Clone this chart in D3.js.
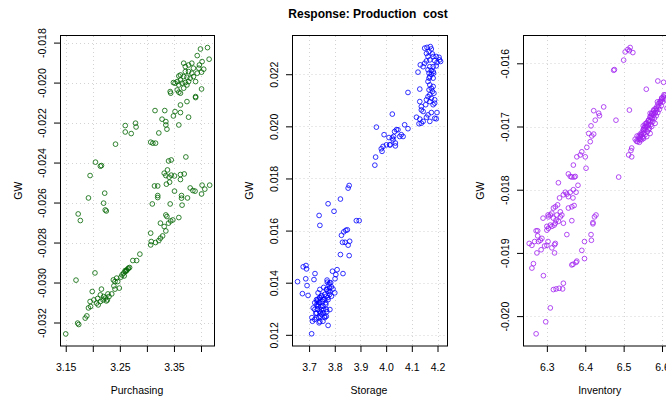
<!DOCTYPE html>
<html>
<head>
<meta charset="utf-8">
<script src="https://cdn.jsdelivr.net/npm/d3@7"></script>
<style>
  body { margin: 0; background: #fff; }
  svg { font-family: "Liberation Sans", Arial, sans-serif; }
</style>
</head>
<body>
<svg id="chart" width="666" height="399"></svg>
<script>
// GW response vs. Purchasing
const purchasing = [3.399,3.412,3.415,3.393,3.402,3.397,3.383,3.368,3.371,3.377,
  3.386,3.396,3.405,3.401,3.393,3.383,3.377,3.371,3.362,3.359,
  3.368,3.374,3.380,3.386,3.390,3.377,3.371,3.362,3.356,3.352,
  3.349,3.359,3.365,3.374,3.368,3.356,3.359,3.362,3.343,3.344,
  3.401,3.390,3.390,3.374,3.362,3.315,3.333,3.352,3.362,3.349,
  3.328,3.377,3.335,3.335,3.337,3.359,3.322,3.307,3.311,3.316,
  3.279,3.280,3.260,3.260,3.271,3.242,3.205,3.214,3.216,3.195,
  3.192,3.222,3.220,3.314,3.320,3.320,3.320,3.340,3.345,3.372,
  3.338,3.332,3.335,3.341,3.345,3.351,3.362,3.369,3.362,3.336,
  3.342,3.351,3.380,3.389,3.402,3.416,3.407,3.401,3.364,3.364,
  3.375,3.385,3.310,3.343,3.365,3.223,3.225,3.173,3.177,3.335,
  3.337,3.359,3.340,3.344,3.348,3.325,3.332,3.335,3.329,3.325,
  3.322,3.316,3.308,3.307,3.307,3.287,3.281,3.274,3.266,3.263,
  3.260,3.257,3.254,3.258,3.260,3.252,3.244,3.241,3.238,3.246,
  3.249,3.241,3.239,3.235,3.228,3.227,3.220,3.214,3.209,3.207,
  3.210,3.214,3.216,3.199,3.195,3.196,3.204,3.169,3.172,3.174,
  3.186,3.189,3.150,3.223,3.225,3.230,3.219,3.202,3.192,3.268,
  3.265,3.262];
const gwPurchasing = [-0.01832,-0.01825,-0.01883,-0.01865,-0.01895,-0.01912,-0.01903,-0.01903,-0.0192,-0.01912,
  -0.01928,-0.01928,-0.01933,-0.01948,-0.01953,-0.01953,-0.01945,-0.01945,-0.01962,-0.01967,
  -0.0197,-0.01973,-0.01978,-0.0197,-0.01995,-0.01995,-0.02,-0.01987,-0.01995,-0.02003,
  -0.02,-0.02012,-0.02003,-0.02012,-0.02028,-0.02037,-0.02048,-0.02053,-0.02045,-0.02053,
  -0.02032,-0.0207,-0.02075,-0.02095,-0.02112,-0.0214,-0.0214,-0.02145,-0.0215,-0.02167,
  -0.02183,-0.02173,-0.02195,-0.02212,-0.02233,-0.02212,-0.02252,-0.02298,-0.02303,-0.02303,
  -0.02203,-0.02222,-0.02215,-0.02247,-0.02255,-0.02308,-0.02398,-0.02418,-0.02415,-0.02465,
  -0.02577,-0.02553,-0.02603,-0.02517,-0.02517,-0.02565,-0.02575,-0.02392,-0.02387,-0.02372,
  -0.02437,-0.02453,-0.02465,-0.02473,-0.02463,-0.02467,-0.0246,-0.02457,-0.02485,-0.02508,
  -0.02498,-0.02543,-0.02527,-0.02543,-0.02513,-0.02513,-0.02533,-0.02557,-0.02565,-0.02578,
  -0.02577,-0.0254,-0.02607,-0.02607,-0.02613,-0.02637,-0.02642,-0.02657,-0.0269,-0.02662,
  -0.0267,-0.02675,-0.02703,-0.02692,-0.02687,-0.02703,-0.0272,-0.02742,-0.02767,-0.02778,
  -0.0279,-0.028,-0.02795,-0.02812,-0.02753,-0.02858,-0.0289,-0.0289,-0.02928,-0.02937,
  -0.02945,-0.02953,-0.02962,-0.02967,-0.0294,-0.02973,-0.02978,-0.02995,-0.02987,-0.02995,
  -0.03028,-0.03033,-0.03017,-0.03057,-0.03057,-0.03087,-0.0307,-0.03062,-0.0308,-0.03103,
  -0.03112,-0.03095,-0.03033,-0.03045,-0.03095,-0.0312,-0.02952,-0.02988,-0.03203,-0.0321,
  -0.03178,-0.03167,-0.03257,-0.03078,-0.03092,-0.0307,-0.03087,-0.03087,-0.03127,-0.02925,
  -0.02932,-0.02942];

// GW response vs. Storage
const storage = [4.150,4.159,4.172,4.176,4.167,4.157,4.180,4.163,4.183,4.195,
  4.206,4.208,4.212,4.198,4.189,4.170,4.157,4.150,4.133,4.144,
  4.170,4.183,4.195,4.163,4.176,4.183,4.167,4.176,4.185,4.170,
  4.167,4.183,4.124,4.163,4.170,4.176,4.183,4.167,4.180,4.186,
  4.170,4.163,4.176,4.189,4.170,4.189,4.157,4.131,4.085,4.131,
  4.137,4.137,4.144,4.154,4.183,4.176,4.198,4.163,4.189,4.195,
  4.157,4.170,4.144,4.131,4.118,4.128,4.137,
  4.024,3.962,3.992,4.011,4.024,4.029,4.033,4.040,4.046,4.072,
  4.085,4.059,4.066,4.053,4.036,4.036,4.014,4.001,3.988,3.981,
  3.984,3.959,3.956,4.016,4.027,3.856,3.852,3.822,3.774,
  3.739,3.742,3.797,3.884,3.895,3.826,3.835,3.843,3.849,3.830,
  3.840,3.852,3.858,3.822,3.856,3.677,3.688,3.690,3.723,3.719,
  3.832,3.809,3.791,3.804,3.655,3.687,3.692,3.674,3.696,3.770,
  3.771,3.780,3.801,3.787,3.767,3.742,3.735,3.729,3.722,3.716,
  3.713,3.729,3.739,3.754,3.767,3.774,3.744,3.735,3.754,3.748,
  3.761,3.774,3.780,3.793,3.800,3.787,3.774,3.765,3.754,3.748,
  3.742,3.729,3.722,3.754,3.767,3.761,3.710,3.742,3.735,3.731,
  3.780,3.767,3.742,
  3.734,3.742,3.749,3.738,3.730,3.746,3.753,3.761,3.734,3.742,
  3.726,3.749,3.738,3.757,3.765,3.773,3.781,3.769,3.757,3.777,
  3.784,3.722,3.742,3.761,3.711,3.769,3.781];
const gwStorage = [0.023,0.02303,0.02306,0.02297,0.02287,0.0228,0.02278,0.02268,0.02268,0.02268,
  0.02265,0.02255,0.02249,0.02245,0.02252,0.02255,0.02251,0.02242,0.02236,0.02229,
  0.02229,0.02229,0.02232,0.02217,0.02214,0.0221,0.02204,0.022,0.02204,0.02191,
  0.02185,0.02185,0.02208,0.02172,0.02159,0.02146,0.02153,0.0214,0.02134,0.02127,
  0.02121,0.02114,0.02108,0.02102,0.02095,0.02089,0.02102,0.02143,0.0213,0.02095,
  0.02076,0.02063,0.02057,0.02083,0.02083,0.02053,0.02053,0.02044,0.02031,0.02029,
  0.02035,0.02019,0.02019,0.02028,0.02035,0.0201,0.02012,
  0.02047,0.01997,0.01968,0.01957,0.01955,0.01961,0.0198,0.01987,0.01987,0.02006,
  0.01991,0.01968,0.01961,0.01961,0.01936,0.01925,0.01929,0.01929,0.01923,0.01914,
  0.01904,0.01882,0.01851,0.01929,0.01948,0.01773,0.01763,0.01721,0.01703,
  0.01658,0.0162,0.01674,0.01638,0.01638,0.01582,0.01595,0.01601,0.01603,0.01555,
  0.01555,0.01544,0.01559,0.01508,0.01504,0.01461,0.01466,0.01453,0.01435,0.01412,
  0.01435,0.0145,0.01444,0.01431,0.01404,0.01415,0.01389,0.01358,0.01351,0.0141,
  0.01402,0.01399,0.01415,0.01384,0.01374,0.01374,0.01361,0.01335,0.01323,0.01303,
  0.01252,0.01265,0.01246,0.01252,0.01271,0.01236,0.01284,0.0131,0.01335,0.01348,
  0.01355,0.01367,0.0138,0.01376,0.01361,0.01348,0.01335,0.01323,0.0131,0.01297,
  0.01271,0.01284,0.01297,0.01284,0.01297,0.01271,0.01204,0.01323,0.01316,0.01329,
  0.01355,0.01348,0.01342,
  0.01336,0.01343,0.01351,0.01324,0.01316,0.01308,0.01328,0.01336,0.01297,0.01289,
  0.01282,0.01278,0.01266,0.01297,0.01316,0.01343,0.01366,0.01374,0.01382,0.01393,
  0.014,0.01259,0.01251,0.01266,0.01266,0.01289,0.01297];

// GW response vs. Inventory
const inventory = [6.504,6.511,6.517,6.515,6.524,6.500,6.476,6.474,6.589,6.604,
  6.559,6.515,6.480,6.448,6.422,6.435,6.437,6.426,6.415,6.409,
  6.422,6.417,6.413,6.404,6.391,6.387,6.378,6.400,6.369,6.402,
  6.356,6.361,6.374,6.487,
  6.530,6.536,6.541,6.543,6.547,6.552,6.556,6.560,6.565,6.569,
  6.573,6.578,6.582,6.586,6.591,6.595,6.599,6.604,6.608,6.550,
  6.556,6.562,6.567,6.571,6.576,6.580,6.585,6.589,6.593,6.598,
  6.602,6.606,6.611,6.613,6.547,6.552,6.565,6.573,6.582,6.569,
  6.560,6.543,6.521,6.519,6.513,6.521,6.595,6.599,6.588,6.578,
  6.573,6.569,6.565,6.559,6.556,6.552,
  6.533,6.538,6.540,6.543,6.546,6.548,6.551,6.553,6.556,6.559,
  6.561,6.564,6.566,6.569,6.572,6.574,6.577,6.579,6.582,6.585,
  6.587,6.590,6.595,6.600,6.605,6.543,6.553,6.564,6.574,6.535,
  6.556,6.569,6.582,6.551,
  6.330,6.361,6.369,6.376,6.352,6.348,6.343,6.356,6.333,6.368,
  6.381,6.365,6.371,
  6.322,6.317,6.328,6.335,6.326,6.339,6.317,6.309,6.304,6.313,
  6.335,6.324,6.330,6.319,6.313,6.304,6.300,6.309,6.290,6.303,
  6.343,6.356,6.365,6.371,6.365,6.352,6.322,6.428,6.424,6.420,
  6.420,6.415,6.416,6.398,6.391,6.398,6.378,6.376,6.368,6.365,
  6.272,6.276,6.276,6.268,6.254,6.261,6.265,6.261,6.274,6.285,
  6.294,6.303,6.313,6.320,6.322,6.320,6.291,6.317,6.324,6.332,
  6.341,6.343,6.309,6.297,6.272,6.287,6.283,6.278,6.300,6.300];
const gwInventory = [-0.01582,-0.01578,-0.01575,-0.0158,-0.01583,-0.01595,-0.0161,-0.01611,-0.01628,-0.0163,
  -0.01641,-0.01674,-0.0169,-0.01669,-0.01675,-0.01679,-0.01683,-0.0169,-0.01699,-0.01711,
  -0.01712,-0.01715,-0.01724,-0.01733,-0.0174,-0.01745,-0.01748,-0.01748,-0.01761,-0.01766,
  -0.01775,-0.01779,-0.01779,-0.0178,
  -0.0172,-0.01724,-0.01725,-0.01716,-0.01713,-0.01711,-0.01705,-0.017,-0.01697,-0.01692,
  -0.01687,-0.01682,-0.01678,-0.01674,-0.01669,-0.01663,-0.01658,-0.01653,-0.0165,-0.01717,
  -0.01713,-0.01708,-0.01703,-0.01697,-0.01692,-0.01687,-0.01683,-0.01678,-0.01673,-0.01667,
  -0.01661,-0.01655,-0.01658,-0.01671,-0.01721,-0.01719,-0.01705,-0.017,-0.01695,-0.01711,
  -0.01716,-0.01721,-0.01734,-0.01738,-0.01745,-0.01748,-0.01661,-0.01655,-0.01661,-0.01674,
  -0.01679,-0.01684,-0.0169,-0.01695,-0.017,-0.01705,
  -0.01723,-0.0172,-0.01715,-0.01712,-0.01713,-0.01709,-0.01705,-0.01702,-0.01701,-0.01698,
  -0.01694,-0.01691,-0.0169,-0.01686,-0.01683,-0.0168,-0.01679,-0.01675,-0.01672,-0.01671,
  -0.01668,-0.01664,-0.0166,-0.01655,-0.0165,-0.01718,-0.0171,-0.01699,-0.01688,-0.01715,
  -0.01696,-0.01679,-0.01679,-0.01699,
  -0.01789,-0.01804,-0.018,-0.01804,-0.01807,-0.01804,-0.01808,-0.01811,-0.01813,-0.01813,
  -0.01793,-0.0178,-0.0178,
  -0.01827,-0.01829,-0.01824,-0.01835,-0.0184,-0.0184,-0.01845,-0.0184,-0.01843,-0.01837,
  -0.01843,-0.01848,-0.0185,-0.01856,-0.01858,-0.01861,-0.01864,-0.01856,-0.01845,-0.0184,
  -0.01853,-0.01829,-0.01827,-0.01825,-0.01849,-0.01871,-0.01853,-0.0184,-0.01843,-0.01852,
  -0.01854,-0.01871,-0.0188,-0.01882,-0.01896,-0.01909,-0.01913,-0.01915,-0.01918,-0.01919,
  -0.01865,-0.01865,-0.01873,-0.01882,-0.01885,-0.01888,-0.01917,-0.01924,-0.019,-0.01895,
  -0.01889,-0.01882,-0.01892,-0.01887,-0.01885,-0.019,-0.01936,-0.01958,-0.01957,-0.01956,
  -0.01957,-0.01948,-0.01987,-0.02009,-0.02028,-0.01877,-0.0188,-0.01882,-0.01858,-0.01888];

// tick values and labels (R drops the labels that would overlap)
const purchasingTicks = [3.15, 3.20, 3.25, 3.30, 3.35, 3.40];
const purchasingLabels = ['3.15', '', '3.25', '', '3.35', ''];
const storageTicks = [3.7, 3.8, 3.9, 4.0, 4.1, 4.2];
const storageLabels = ['3.7', '3.8', '3.9', '4.0', '4.1', '4.2'];
const inventoryTicks = [6.3, 6.4, 6.5, 6.6];
const inventoryLabels = ['6.3', '6.4', '6.5', '6.6'];
const gwPurchasingTicks = [-0.032, -0.030, -0.028, -0.026, -0.024, -0.022, -0.020, -0.018];
const gwStorageTicks = [0.012, 0.014, 0.016, 0.018, 0.020, 0.022];
const gwInventoryTicks = [-0.020, -0.019, -0.018, -0.017, -0.016];

const svg = d3.select('#chart');
const plotTop = 36, plotBottom = 345.5;

const panels = [
  { name: 'Purchasing', xs: purchasing, ys: gwPurchasing, color: '#006400',
    left: 60, right: 214, xDomain: [3.1394, 3.424], yDomain: [-0.03315, -0.01767],
    xTicks: purchasingTicks, xLabels: purchasingLabels, yTicks: gwPurchasingTicks },
  { name: 'Storage', xs: storage, ys: gwStorage, color: '#0000ff',
    left: 291.5, right: 446.5, xDomain: [3.6315, 4.235], yDomain: [0.01159, 0.023467],
    xTicks: storageTicks, xLabels: storageLabels, yTicks: gwStorageTicks },
  { name: 'Inventory', xs: inventory, ys: gwInventory, color: '#a020f0',
    left: 522.5, right: 677, xDomain: [6.2365, 6.639], yDomain: [-0.020465, -0.015568],
    xTicks: inventoryTicks, xLabels: inventoryLabels, yTicks: gwInventoryTicks }
];

// Title
svg.append('text')
  .attr('x', 368)
  .attr('y', 18)
  .attr('text-anchor', 'middle')
  .style('font-size', '12px')
  .style('font-weight', 'bold')
  .style('white-space', 'pre')
  .text('Response: Production  cost');

panels.forEach(p => {
  const x = d3.scaleLinear().domain(p.xDomain).range([p.left, p.right]);
  const y = d3.scaleLinear().domain(p.yDomain).range([plotBottom, plotTop]);
  const g = svg.append('g');

  // dotted grid
  g.selectAll('.vgrid')
    .data(p.xTicks)
    .enter()
    .append('line')
    .attr('x1', d => Math.round(x(d)) + 0.5)
    .attr('x2', d => Math.round(x(d)) + 0.5)
    .attr('y1', plotTop)
    .attr('y2', plotBottom)
    .attr('stroke', '#d3d3d3')
    .attr('stroke-dasharray', '1,3');

  g.selectAll('.hgrid')
    .data(p.yTicks)
    .enter()
    .append('line')
    .attr('x1', p.left)
    .attr('x2', p.right)
    .attr('y1', d => Math.round(y(d)) + 0.5)
    .attr('y2', d => Math.round(y(d)) + 0.5)
    .attr('stroke', '#d3d3d3')
    .attr('stroke-dasharray', '1,3');

  // points
  g.selectAll('circle')
    .data(d3.zip(p.xs, p.ys))
    .enter()
    .append('circle')
    .attr('cx', d => x(d[0]))
    .attr('cy', d => y(d[1]))
    .attr('r', 2.35)
    .attr('fill', 'none')
    .attr('stroke', p.color)
    .attr('stroke-opacity', 0.8)
    .attr('stroke-width', 1);

  // X axis
  const xAxis = g.append('g')
    .attr('transform', `translate(0, ${Math.round(plotBottom)})`)
    .call(d3.axisBottom(x)
      .tickValues(p.xTicks)
      .tickFormat((d, i) => p.xLabels[i])
      .tickSize(6)
      .tickSizeOuter(0));
  xAxis.select('.domain').remove();
  xAxis.selectAll('.tick text')
    .attr('y', 24.5)
    .attr('dy', null)
    .attr('fill', '#000')
    .style('font-size', '10.5px');

  // Y axis with rotated labels
  const yAxis = g.append('g')
    .attr('transform', `translate(${Math.round(p.left)}, 0)`)
    .call(d3.axisLeft(y)
      .tickValues(p.yTicks)
      .tickFormat(d => d.toFixed(3))
      .tickSize(6)
      .tickSizeOuter(0));
  yAxis.select('.domain').remove();
  yAxis.selectAll('.tick text')
    .attr('x', 0)
    .attr('dy', '0.36em')
    .attr('text-anchor', 'middle')
    .attr('transform', 'translate(-17.5, 0) rotate(-90)')
    .attr('fill', '#000')
    .style('font-size', '10.5px');

  // box around the plot region
  g.append('rect')
    .attr('x', Math.round(p.left) + 0.5)
    .attr('y', plotTop - 0.5)
    .attr('width', Math.round(p.right) - Math.round(p.left))
    .attr('height', Math.round(plotBottom) - plotTop + 0.5)
    .attr('fill', 'none')
    .attr('stroke', '#000')
    .attr('stroke-width', 1);

  // axis titles
  g.append('text')
    .attr('x', (p.left + p.right) / 2)
    .attr('y', 394)
    .attr('text-anchor', 'middle')
    .style('font-size', '10.5px')
    .text(p.name);

  g.append('text')
    .attr('transform', `translate(${p.left - 42}, ${(plotTop + plotBottom) / 2}) rotate(-90)`)
    .attr('dy', '0.36em')
    .attr('text-anchor', 'middle')
    .style('font-size', '10.5px')
    .text('GW');
});
</script>
</body>
</html>
